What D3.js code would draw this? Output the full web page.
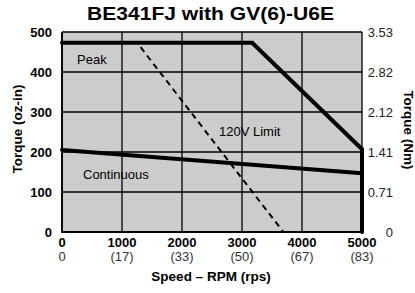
<!DOCTYPE html>
<html><head><meta charset="utf-8">
<script src="https://cdn.jsdelivr.net/npm/d3@7"></script>
<style>body{margin:0;background:#fff}svg{display:block}text{font-family:"Liberation Sans",Arial,sans-serif}</style>
</head><body>
<script>
const title = "BE341FJ with GV(6)-U6E";
const xTicks = [0, 1000, 2000, 3000, 4000, 5000];
const rpsLabels = ["0", "(17)", "(33)", "(50)", "(67)", "(83)"];
const yTicks = [0, 100, 200, 300, 400, 500];
const nmLabels = ["0", "0.71", "1.41", "2.12", "2.82", "3.53"];
const peakSpeed = [0, 3170, 5000, 5000];
const peakTorque = [473, 473, 207, 0];
const contSpeed = [0, 5000];
const contTorque = [205, 147];
const limitSpeed = [1310, 3690];
const limitTorque = [462, 0];

const W = 415, H = 293;
const svg = d3.select("body").append("svg").attr("width", W).attr("height", H);
const x = d3.scaleLinear().domain([0, 5000]).range([62, 362]);
const y = d3.scaleLinear().domain([0, 500]).range([232, 32]);

svg.append("rect").attr("x", x(0)).attr("y", y(500)).attr("width", x(5000) - x(0)).attr("height", y(0) - y(500)).attr("fill", "#cccccc");

const g = svg.append("g");
g.selectAll(".vg").data(xTicks).join("line")
  .attr("x1", d => x(d)).attr("x2", d => x(d)).attr("y1", y(0)).attr("y2", y(500))
  .attr("stroke", "#000").attr("stroke-width", 1.3);
g.selectAll(".hg").data(yTicks).join("line")
  .attr("x1", x(0)).attr("x2", x(5000)).attr("y1", d => y(d)).attr("y2", d => y(d))
  .attr("stroke", "#000").attr("stroke-width", 1.3);
svg.append("line").attr("x1", x(0)).attr("x2", x(5000)).attr("y1", y(0)).attr("y2", y(0)).attr("stroke", "#000").attr("stroke-width", 2.2);
svg.append("line").attr("x1", x(0)).attr("x2", x(0)).attr("y1", y(0)+1).attr("y2", y(500)).attr("stroke", "#000").attr("stroke-width", 1.8);

const line = d3.line().x(d => x(d[0])).y(d => y(d[1]));
svg.append("path").datum(limitSpeed.map((s, i) => [s, limitTorque[i]])).attr("d", line)
  .attr("fill", "none").attr("stroke", "#000").attr("stroke-width", 2).attr("stroke-dasharray", "6,4.5");
svg.append("path").datum(contSpeed.map((s, i) => [s, contTorque[i]])).attr("d", line)
  .attr("fill", "none").attr("stroke", "#000").attr("stroke-width", 4).attr("stroke-linecap", "round");
svg.append("path").datum(peakSpeed.map((s, i) => [s, peakTorque[i]])).attr("d", line)
  .attr("fill", "none").attr("stroke", "#000").attr("stroke-width", 4).attr("stroke-linecap", "round");

svg.append("text").attr("x", 210.5).attr("y", 20).attr("text-anchor", "middle")
  .attr("font-size", 17.5).attr("font-weight", "bold")
  .attr("textLength", 247).attr("lengthAdjust", "spacingAndGlyphs").text(title);

svg.selectAll(".yl").data(yTicks).join("text")
  .attr("x", 52).attr("y", d => y(d) + 4.7).attr("text-anchor", "end")
  .attr("font-size", 13).attr("font-weight", "bold").text(d => d);
svg.selectAll(".yr").data(nmLabels).join("text")
  .attr("x", 393).attr("y", (d, i) => y(yTicks[i]) + 4.7).attr("text-anchor", "end")
  .attr("font-size", 13).attr("fill", "#222").text(d => d);
svg.selectAll(".xl").data(xTicks).join("text")
  .attr("x", d => x(d)).attr("y", 246.5).attr("text-anchor", "middle")
  .attr("font-size", 13).attr("font-weight", "bold").text(d => d);
svg.selectAll(".xr").data(rpsLabels).join("text")
  .attr("x", (d, i) => x(xTicks[i])).attr("y", 261).attr("text-anchor", "middle")
  .attr("font-size", 13).attr("fill", "#333").text(d => d);

svg.append("text").attr("x", 211).attr("y", 280.5).attr("text-anchor", "middle")
  .attr("font-size", 13.5).attr("font-weight", "bold").text("Speed – RPM (rps)");
svg.append("text").attr("transform", "translate(22,129) rotate(-90)").attr("text-anchor", "middle")
  .attr("font-size", 13.5).attr("font-weight", "bold").text("Torque (oz-in)");
svg.append("text").attr("transform", "translate(404,130) rotate(90)").attr("text-anchor", "middle")
  .attr("font-size", 13.5).attr("font-weight", "bold").text("Torque (Nm)");

svg.append("text").attr("x", 77).attr("y", 63.5).attr("font-size", 13).text("Peak");
svg.append("text").attr("x", 83).attr("y", 178.5).attr("font-size", 13).text("Continuous");
svg.append("text").attr("x", 219).attr("y", 135.5).attr("font-size", 13).text("120V Limit");
</script>
</body></html>
